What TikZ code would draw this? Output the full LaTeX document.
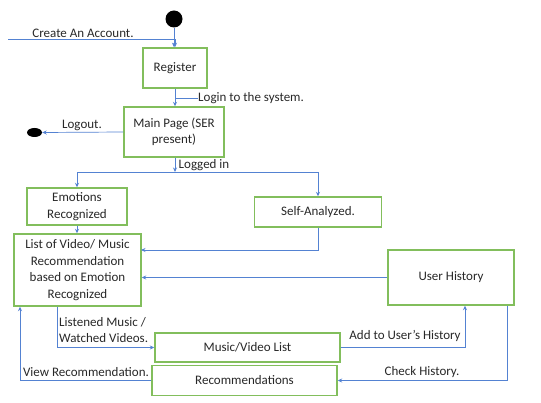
\documentclass[tikz,border=0pt]{standalone}
\usepackage{fontspec}
\setmainfont{Carlito}
\usetikzlibrary{arrows.meta,shapes.geometric}
\definecolor{flowblue}{RGB}{84,130,210}
\definecolor{boxgreen}{RGB}{130,190,92}
\definecolor{inkgray}{RGB}{40,40,40}
\tikzset{
  state/.style={draw=boxgreen, line width=1.4pt, fill=white, rectangle,
    inner sep=2pt, align=center, text=inkgray},
  flow/.style={draw=flowblue, line width=0.7pt},
  flowarrow/.style={flow, -{Stealth[length=4.5pt,width=4pt]}},
  lbl/.style={text=inkgray, inner sep=0pt},
  dot/.style={fill=black, draw=none}
}
\begin{document}
\begin{tikzpicture}[x=1pt,y=-1pt, font=\fontsize{13}{16.5}\selectfont]
\useasboundingbox (0,0) rectangle (541,403);

% initial and final states
\node[dot, circle, minimum size=17pt, inner sep=0pt] (start) at (174,19) {};
\node[dot, ellipse, minimum width=15pt, minimum height=9pt, inner sep=0pt] (final) at (34.5,132.5) {};

% states
\node[state, minimum width=64pt, minimum height=40pt] (reg) at (175,68) {Register};
\node[state, minimum width=100pt, minimum height=50pt] (main) at (174,132) {Main Page (SER\\present)};
\node[state, minimum width=100pt, minimum height=37pt] (emo) at (77,206.5) {Emotions\\Recognized};
\node[state, minimum width=127pt, minimum height=30pt] (self) at (318,212) {Self-Analyzed.};
\node[state, minimum width=127pt, minimum height=72pt] (list) at (77.5,270) {List of Video/ Music\\Recommendation\\based on Emotion\\Recognized};
\node[state, minimum width=126pt, minimum height=55pt] (hist) at (451,277.5) {User History};
\node[state, minimum width=185pt, minimum height=29pt] (mlist) at (247.5,347.5) {Music/Video List};
\node[state, minimum width=185pt, minimum height=30pt] (recs) at (244.5,380.5) {Recommendations};

% helper points
\coordinate (acct) at (8,39);
\coordinate (login) at (198,98);
\coordinate (split) at (175,172);
\coordinate (selfin) at (141,250);

% account creation and login
\draw[flowarrow] (start) -- (start |- reg.north);
\draw[flowarrow] (acct) -| (reg.north);
\draw[flowarrow] (reg.south) -- (reg.south |- main.north);
\draw[flow] (login) -- (login -| reg.south);
\draw[flowarrow] (main.west) -- (final.east);

% split after logging in
\draw[flowarrow] (main.south -| split) -- (split);
\draw[flowarrow] (split) -| (emo.north);
\draw[flowarrow] (split) -| (self.north);

% recommendation list inputs
\draw[flowarrow] (emo.south) -- (list.north -| emo.south);
\draw[flowarrow] (self.south) |- (selfin);
\draw[flowarrow] (hist.west) -- (hist.west -| list.east);

% watched items and history
\draw[flowarrow] ([xshift=-20.5pt]list.south) |- (mlist.west);
\draw[flowarrow] (mlist.east) -| ([xshift=14pt]hist.south);
\draw[flowarrow] ([xshift=56pt]hist.south) |- (recs.east);
\draw[flowarrow] (recs.west) -| ([xshift=-57.5pt]list.south);

% connector labels
\node[lbl] at (83,33) {Create An Account.};
\node[lbl, anchor=west] at (login) {Login to the system.};
\node[lbl] at (82,125) {Logout.};
\node[lbl] at (204,165) {Logged in};
\node[lbl, anchor=west, align=left] at (59,330) {Listened Music /\\Watched Videos.};
\node[lbl] at (405,336) {Add to User’s History};
\node[lbl] at (422,372) {Check History.};
\node[lbl] at (86,372) {View Recommendation.};
\end{tikzpicture}
\end{document}
